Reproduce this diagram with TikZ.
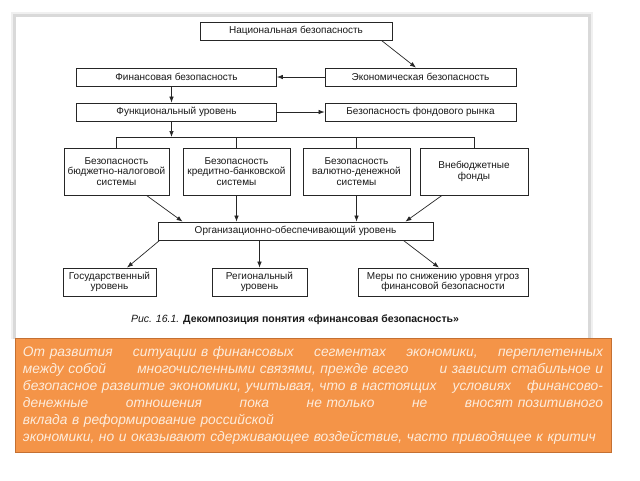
\documentclass[tikz,border=0pt]{standalone}
\usepackage{fontspec}
\setmainfont{Liberation Sans}
\usetikzlibrary{arrows.meta}

\definecolor{arancio}{RGB}{244,148,72}
\definecolor{bordoarancio}{RGB}{196,112,50}
\definecolor{crema}{RGB}{253,236,220}

% riga giustificata del riquadro arancione
\newcommand{\riga}[1]{\hbox to \linewidth{#1}}

\begin{document}
\begin{tikzpicture}[x=1pt, y=-1pt, line width=0.8pt,
    blocco/.style={draw=black!85, fill=white, inner sep=1pt, align=center,
        font=\fontsize{10}{10.6}\selectfont, text=black!90},
    freccia/.style={-{Latex[length=6pt,width=4.5pt]}, line width=0.7pt, draw=black!85},
    filo/.style={line width=0.7pt, draw=black!85}]

    \useasboundingbox (0,0) rectangle (640,480);

    % -- Foglio con ombra --
    \fill[gray!12] (11,12) rectangle (593,339);
    \fill[gray!30] (13,14) rectangle (591,339);
    \fill[white] (16,17) rectangle (588,339);

    % -- Primi tre livelli --
    \node[blocco, minimum width=192pt, minimum height=18pt] (nazionale) at (296,31) {Национальная безопасность};
    \node[blocco, minimum width=200pt, minimum height=18pt] (finanziaria) at (176.5,77) {Финансовая безопасность};
    \node[blocco, minimum width=191pt, minimum height=18pt] (economica) at (420.5,77) {Экономическая безопасность};
    \node[blocco, minimum width=200pt, minimum height=18pt] (funzionale) at (176.5,112) {Функциональный уровень};
    \node[blocco, minimum width=191pt, minimum height=18pt] (borsa) at (420.5,112) {Безопасность фондового рынка};

    \draw[freccia] ([xshift=-11pt]nazionale.south east) -- ([xshift=-4.5pt]economica.north);
    \draw[freccia] (economica.west) -- (finanziaria.east);
    \draw[freccia] ([xshift=-5pt]finanziaria.south) -- ([xshift=-5pt]funzionale.north);
    \draw[freccia] (funzionale.east) -- (borsa.west);

    % -- Quattro sistemi --
    \node[blocco, minimum width=105pt, minimum height=47pt] (bilancio) at (116.5,171.5) {Безопасность\\бюджетно-налоговой\\системы};
    \node[blocco, minimum width=107pt, minimum height=47pt] (credito) at (236.5,171.5) {Безопасность\\кредитно-банковской\\системы};
    \node[blocco, minimum width=107pt, minimum height=47pt] (valuta) at (356.5,171.5) {Безопасность\\валютно-денежной\\системы};
    \node[blocco, minimum width=108pt, minimum height=47pt] (fondi) at (474,171.5) {Внебюджетные\\фонды};

    \coordinate (sbarra) at (0,137);
    \draw[freccia] ([xshift=-5pt]funzionale.south) -- ([xshift=-5pt]funzionale.south |- sbarra);
    \draw[filo] (bilancio.north) -- (bilancio.north |- sbarra) -- (fondi.north |- sbarra) -- (fondi.north);
    \draw[filo] (credito.north) -- (credito.north |- sbarra);
    \draw[filo] (valuta.north) -- (valuta.north |- sbarra);

    % -- Livello organizzativo --
    \node[blocco, minimum width=275pt, minimum height=18pt] (organizzativo) at (295.5,231) {Организационно-обеспечивающий уровень};

    \draw[freccia] ([xshift=30pt]bilancio.south) -- ([xshift=25pt]organizzativo.north west);
    \draw[freccia] (credito.south) -- (credito.south |- organizzativo.north);
    \draw[freccia] (valuta.south) -- (valuta.south |- organizzativo.north);
    \draw[freccia] ([xshift=-32pt]fondi.south) -- ([xshift=-28pt]organizzativo.north east);

    % -- Ultimo livello --
    \node[blocco, minimum width=93pt, minimum height=28pt] (statale) at (109.5,282) {Государственный\\уровень};
    \node[blocco, minimum width=95pt, minimum height=28pt] (regionale) at (259.5,282) {Региональный\\уровень};
    \node[blocco, minimum width=170pt, minimum height=28pt] (misure) at (443,282) {Меры по снижению уровня угроз\\финансовой безопасности};

    \draw[freccia] ([xshift=2pt]organizzativo.south west) -- ([xshift=17.5pt]statale.north);
    \draw[freccia] (organizzativo.south -| regionale.north) -- (regionale.north);
    \draw[freccia] ([xshift=-30pt]organizzativo.south east) -- ([xshift=-4pt]misure.north);

    % didascalia
    \node[font=\fontsize{10.5}{12}\selectfont, text=black!90] (didascalia) at (295,320)
        {\textit{Рис. 16.1.} \textbf{Декомпозиция понятия «финансовая безопасность»}};

    % -- Riquadro arancione --
    \node[draw=bordoarancio, fill=arancio, line width=0.8pt, text=crema,
          minimum width=596pt, minimum height=111pt, text width=580pt, inner sep=8pt,
          align=left, font=\fontsize{13.8}{17}\selectfont\itshape] (nota) at (313,395.5) {%
        \riga{От развития\hfill ситуации в финансовых\hfill сегментах\hfill экономики,\hfill переплетенных}
        \riga{между собой\hfill многочисленными связями, прежде всего\hfill и зависит стабильное и}
        \riga{безопасное развитие экономики, учитывая, что в настоящих\hfill условиях\hfill финансово-}
        \riga{денежные\hfill отношения\hfill пока\hfill не только\hfill не\hfill вносят позитивного}
        \riga{вклада в реформирование российской\hfil}
        \riga{экономики, но и оказывают сдерживающее воздействие, часто приводящее к критич\hfil}};
\end{tikzpicture}
\end{document}
